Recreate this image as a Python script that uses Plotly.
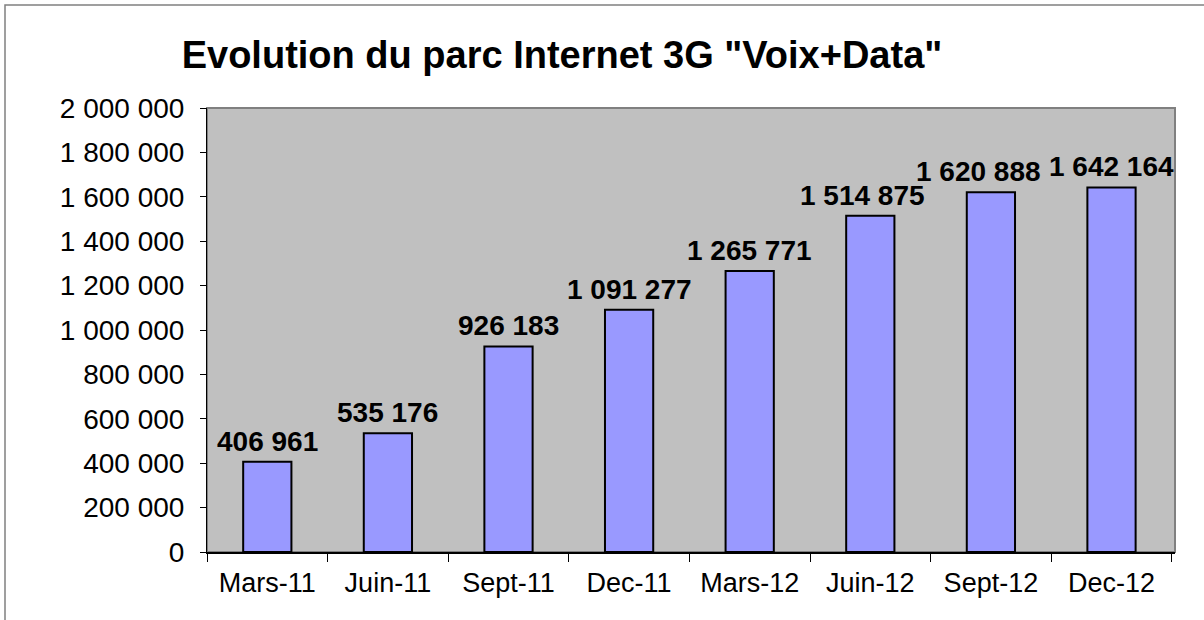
import plotly.graph_objects as go

categories = ["Mars-11", "Juin-11", "Sept-11", "Dec-11", "Mars-12", "Juin-12", "Sept-12", "Dec-12"]
parc = [406961, 535176, 926183, 1091277, 1265771, 1514875, 1620888, 1642164]
labels = [f"{v:,}".replace(",", " ") for v in parc]

W, H = 1204, 620
L, R, T, B = 207, 1175, 108, 552
pw, ph = R - L, B - T

fig = go.Figure(go.Bar(
    x=categories, y=parc,
    marker=dict(color="#9999FF", line=dict(color="black", width=2)),
    width=0.4,
))

# data labels (a couple nudged left like the original to avoid overlap)
nudge = {"Juin-12": -8, "Sept-12": -12}
for cat, val, lab in zip(categories, parc, labels):
    fig.add_annotation(
        x=cat, y=val, text=f"<b>{lab}</b>", showarrow=False,
        yanchor="bottom", yshift=4, xshift=nudge.get(cat, 0), borderpad=0,
        font=dict(family="Liberation Sans, Arial", size=28, color="black"),
    )

fig.update_layout(
    width=W, height=H,
    margin=dict(l=L, r=W - R, t=T, b=H - B),
    paper_bgcolor="white", plot_bgcolor="#C0C0C0",
    separators=", ",
    showlegend=False,
    font=dict(family="Liberation Sans, Arial", size=27, color="black"),
    title=dict(text="<b>Evolution du parc Internet 3G \"Voix+Data\"</b>",
               x=562 / W, xanchor="center", y=1 - 55 / H, yanchor="middle",
               font=dict(size=38, color="black")),
)

fig.update_xaxes(
    showline=True, linecolor="black", linewidth=2,
    ticks="outside", tickson="boundaries", ticklen=8, tickcolor="black", tickwidth=1,
    showgrid=False, tickfont=dict(size=27), ticklabelstandoff=6,
)
fig.update_yaxes(
    range=[0, 2000000], dtick=200000, tickformat=",d",
    showline=True, linecolor="black", linewidth=1,
    ticks="outside", ticklen=6, tickcolor="black",
    showgrid=False, tickfont=dict(size=28), zeroline=False, ticklabelstandoff=10,
)

# plot area border (gray) and outer chart border
fig.add_shape(type="rect", xref="paper", yref="paper", x0=0, x1=1, y0=0, y1=1,
              line=dict(color="#808080", width=2), layer="below")
fig.add_shape(type="rect", xref="paper", yref="paper",
              x0=(5 - L) / pw, x1=(W + 20 - L) / pw,
              y0=-(H + 20 - B) / ph, y1=1 + (T - 5) / ph,
              line=dict(color="#808080", width=1.5))

fig.write_html("out.html", config={"displayModeBar": False},
               post_script="document.body.style.margin='0';")
